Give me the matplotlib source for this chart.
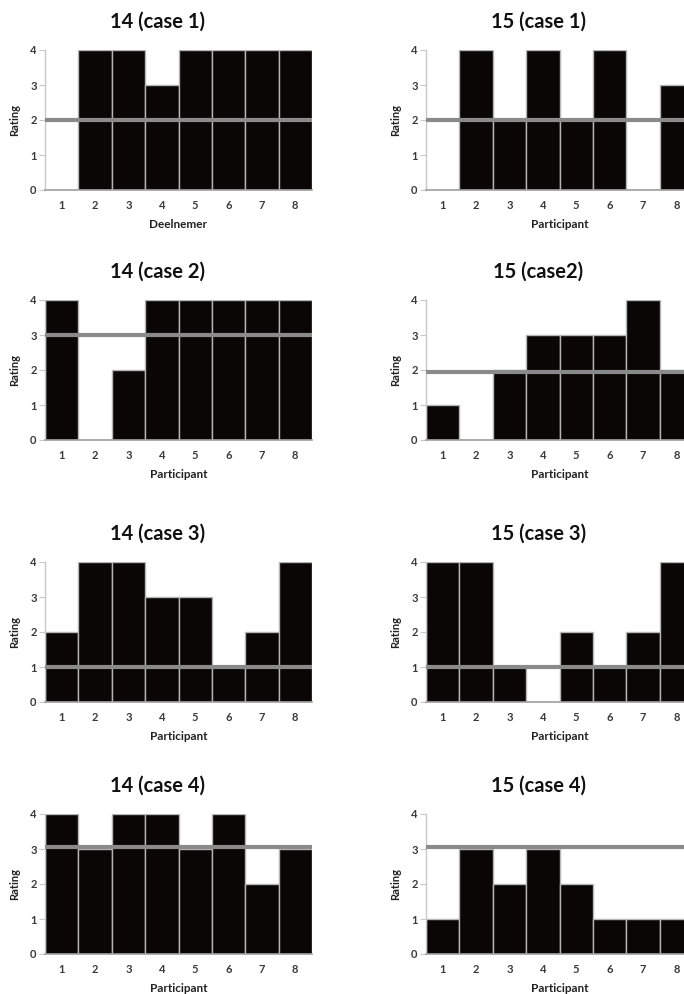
import numpy as np
import matplotlib
matplotlib.use("Agg")
import matplotlib.pyplot as plt

plt.rcParams['font.family'] = ['Lato', 'DejaVu Sans']

participants = [1, 2, 3, 4, 5, 6, 7, 8]

titles = ["14 (case 1)", "15 (case 1)",
          "14 (case 2)", "15 (case2)",
          "14 (case 3)", "15 (case 3)",
          "14 (case 4)", "15 (case 4)"]

xlabels = ["Deelnemer", "Participant",
           "Participant", "Participant",
           "Participant", "Participant",
           "Participant", "Participant"]

r14_case1 = [0, 4, 4, 3, 4, 4, 4, 4]
r15_case1 = [0, 4, 2, 4, 2, 4, 0, 3]
r14_case2 = [4, 0, 2, 4, 4, 4, 4, 4]
r15_case2 = [1, 0, 2, 3, 3, 3, 4, 2]
r14_case3 = [2, 4, 4, 3, 3, 1, 2, 4]
r15_case3 = [4, 4, 1, 0, 2, 1, 2, 4]
r14_case4 = [4, 3, 4, 4, 3, 4, 2, 3]
r15_case4 = [1, 3, 2, 3, 2, 1, 1, 1]

ratings = [r14_case1, r15_case1, r14_case2, r15_case2,
           r14_case3, r15_case3, r14_case4, r15_case4]

# grey reference line per panel
ref = [2, 2, 3, 1.95, 1, 1, 3.05, 3.05]

W, H = 684, 994
fig = plt.figure(figsize=(W / 100, H / 100), dpi=100)

col_x = [45, 426]
row_top = [50, 300, 562, 814]
aw, ah = 267, 140

for i in range(8):
    r, c = divmod(i, 2)
    x0 = col_x[c]
    y0 = row_top[r] + ah
    ax = fig.add_axes([x0 / W, 1 - y0 / H, aw / W, ah / H])

    ax.bar(participants, ratings[i], width=1.0, color='#0a0606',
           edgecolor='#b5b5b5', linewidth=1.0, zorder=2)
    ax.hlines(ref[i], 0.4, 8.6, color='#8a8a8a', linewidth=3.0, zorder=3)

    ax.set_xlim(0.5, 8.5)
    ax.set_ylim(0, 4)
    ax.set_yticks([0, 1, 2, 3, 4])
    ax.set_xticks(participants)

    for s in ['top', 'right']:
        ax.spines[s].set_visible(False)
    ax.spines['left'].set_color('#c8c8c8')
    ax.spines['bottom'].set_color('#a0a0a0')
    ax.spines['left'].set_linewidth(1.0)
    ax.spines['bottom'].set_linewidth(1.2)

    ax.tick_params(axis='y', length=4, width=0.8, color='#c8c8c8',
                   labelsize=8, labelcolor='#3a3a3a', pad=2)
    ax.tick_params(axis='x', length=0, labelsize=8,
                   labelcolor='#3a3a3a', pad=7)
    for lab in ax.get_xticklabels() + ax.get_yticklabels():
        lab.set_fontweight('bold')

    ax.set_ylabel('Rating', fontsize=8, fontweight='bold', labelpad=7,
                  color='#222222')
    ax.set_xlabel(xlabels[i], fontsize=8.5, fontweight='bold', labelpad=6,
                  color='#222222')

    ax.text(0.42, 1.2, titles[i], transform=ax.transAxes, ha='center',
            va='center', fontsize=14.5, fontweight='bold', color='#111111')

fig.savefig('out.png', dpi=100)
